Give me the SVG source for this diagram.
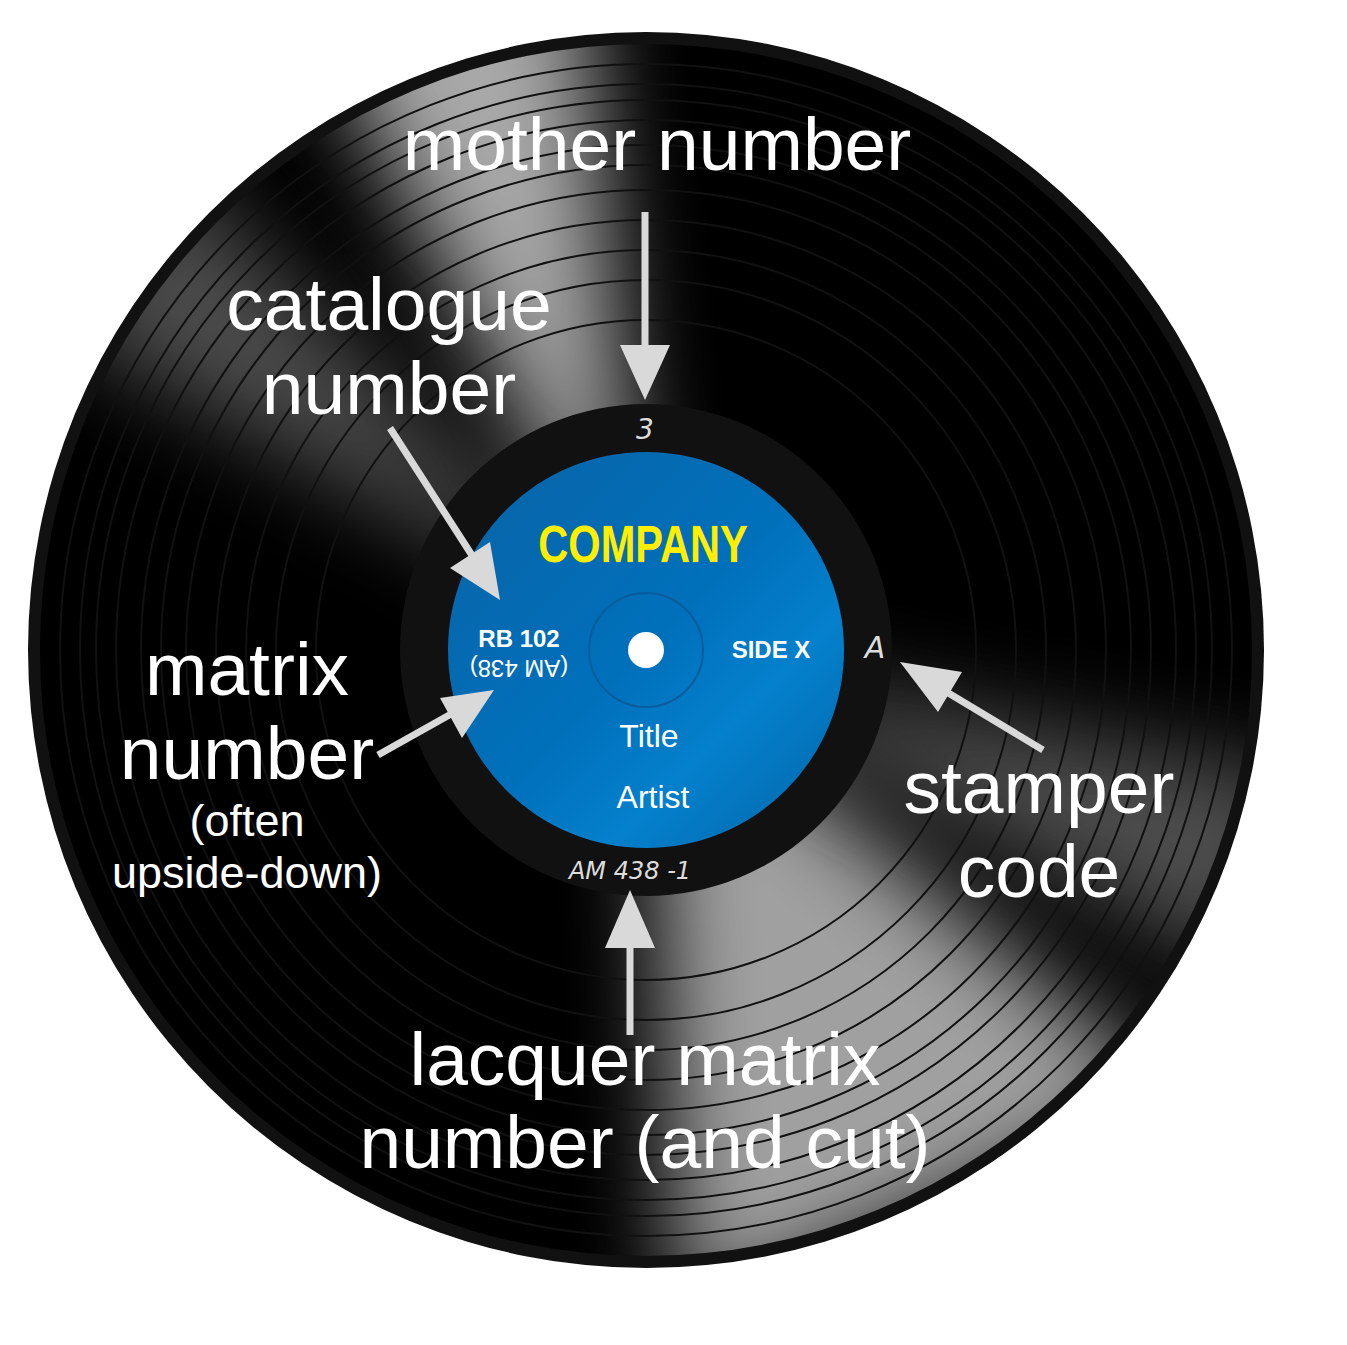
<svg xmlns="http://www.w3.org/2000/svg" width="1347" height="1345" viewBox="0 0 1347 1345">
<style>
.lbl{font-family:"Liberation Sans",Arial,sans-serif;fill:#fff;text-anchor:middle}
.big{font-size:75px}
.hand{font-family:"DejaVu Sans",sans-serif;font-weight:200;fill:#ddd;font-style:italic;text-anchor:middle}
.g{fill:none;stroke:#111;stroke-width:2}
.arr{stroke:#d9d9d9;stroke-width:7;fill:none}
.head{fill:#d9d9d9}
</style>
<defs>
<clipPath id="disc"><circle cx="646" cy="650" r="606"/></clipPath>
<filter id="blur" x="-50%" y="-50%" width="200%" height="200%"><feGaussianBlur stdDeviation="45"/></filter>
<linearGradient id="blue" x1="0" y1="0" x2="1" y2="1">
<stop offset="0" stop-color="#0a63a6"/><stop offset="0.5" stop-color="#0070bb"/><stop offset="0.7" stop-color="#0580cc"/><stop offset="1" stop-color="#0065a8"/>
</linearGradient>
</defs>
<rect width="1347" height="1345" fill="#fff"/>
<g id="record">
<circle cx="646" cy="650" r="618" fill="#111"/>
<circle cx="646" cy="650" r="606" fill="#000"/>
<g clip-path="url(#disc)">
<path d="M646 650 L280 -40 L580 -40 Z" fill="#a8a8a8" filter="url(#blur)"/>
<path d="M646 650 L60 330 L160 150 Z" fill="#808080" filter="url(#blur)" opacity="0.6"/>
<path d="M646 650 L680 1320 L1180 1100 Z" fill="#a0a0a0" filter="url(#blur)"/>
<path d="M646 650 L1320 780 L1250 980 Z" fill="#707070" filter="url(#blur)" opacity="0.7"/>
</g>
<g>
<circle class="g" cx="646" cy="650" r="586"/>
<circle class="g" cx="646" cy="650" r="566"/>
<circle class="g" cx="646" cy="650" r="550"/>
<circle class="g" cx="646" cy="650" r="530"/>
<circle class="g" cx="646" cy="650" r="505"/>
<circle class="g" cx="646" cy="650" r="485"/>
<circle class="g" cx="646" cy="650" r="460"/>
<circle class="g" cx="646" cy="650" r="430"/>
<circle class="g" cx="646" cy="650" r="400"/>
<circle class="g" cx="646" cy="650" r="370"/>
<circle class="g" cx="646" cy="650" r="330"/>
</g>
<circle cx="646" cy="650" r="246" fill="#111"/>
<circle cx="646" cy="650" r="198" fill="url(#blue)"/>
<circle cx="646" cy="650" r="57" fill="none" stroke="#0a5d9c" stroke-width="2"/>
<circle cx="646" cy="650" r="18" fill="#fff"/>
</g>
<g id="label-text">
<text x="643" y="562" font-family="Impact,'Liberation Sans Narrow',sans-serif" font-weight="bold" font-size="52" fill="#ffee00" text-anchor="middle" transform="translate(643 562) scale(0.8 1) translate(-643 -562)">COMPANY</text>
<text class="lbl" x="519" y="647" font-size="24" font-weight="bold">RB 102</text>
<text class="lbl" font-size="24" transform="translate(519 660) rotate(180)">(AM 438)</text>
<text class="lbl" x="771" y="658" font-size="24" font-weight="bold">SIDE X</text>
<text class="lbl" x="649" y="747" font-size="32">Title</text>
<text class="lbl" x="653" y="808" font-size="32">Artist</text>
<text class="hand" x="645" y="439" font-size="28">3</text>
<text class="hand" x="875" y="658" font-size="30">A</text>
<text class="hand" x="630" y="879" font-size="24">AM 438 -1</text>
</g>
<g id="connectors">
<line class="arr" x1="645" y1="212" x2="645" y2="350"/>
<polygon class="head" points="645,400 620,345 670,345"/>
<line class="arr" x1="390" y1="428" x2="475" y2="560"/>
<polygon class="head" points="500,600 450,568 490,542"/>
<line class="arr" x1="378" y1="755" x2="460" y2="709"/>
<polygon class="head" points="494,690 462,738 440,698"/>
<line class="arr" x1="1043" y1="750" x2="940" y2="688"/>
<polygon class="head" points="900,662 962,672 938,712"/>
<line class="arr" x1="630" y1="1035" x2="630" y2="940"/>
<polygon class="head" points="630,890 655,948 605,948"/>
</g>
<g id="annotations">
<text class="lbl big" x="657" y="170">mother number</text>
<text class="lbl big" x="389" y="330">catalogue</text>
<text class="lbl big" x="389" y="414">number</text>
<text class="lbl big" x="247" y="695">matrix</text>
<text class="lbl big" x="247" y="779">number</text>
<text class="lbl" x="247" y="836" font-size="45">(often</text>
<text class="lbl" x="247" y="888" font-size="45">upside-down)</text>
<text class="lbl big" x="1039" y="813">stamper</text>
<text class="lbl big" x="1039" y="897">code</text>
<text class="lbl big" x="645" y="1085">lacquer matrix</text>
<text class="lbl big" x="645" y="1168">number (and cut)</text>
</g>
</svg>
